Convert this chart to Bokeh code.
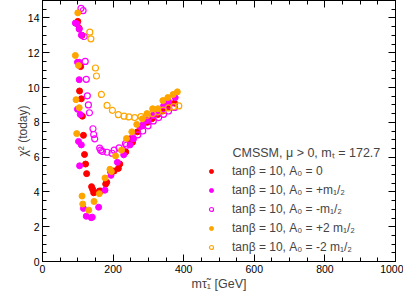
from bokeh.plotting import figure
from bokeh.models import (Range1d, LinearAxis, Legend, LegendItem, Label,
                          SingleIntervalTicker, CustomJSTickFormatter)
from bokeh.embed import file_html
from bokeh.resources import INLINE

# A0 = 0 (red, filled)
red_x = [100, 104, 108, 112, 105, 110, 113, 116, 119, 122, 125, 139, 142, 145, 161, 165,
         179, 182, 193, 203, 215, 219, 236, 248, 255, 269, 284, 297, 310, 327, 341, 357, 374]
red_y = [13.8, 13.4, 11.2, 13.0, 9.8, 9.35, 8.35, 7.25, 6.15, 5.6, 5.05, 4.3, 4.15, 3.95, 4.05, 4.05,
         4.45, 4.55, 5.15, 5.2, 5.35, 5.6, 6.3, 7.05, 6.85, 7.45, 7.8, 8.0, 8.2, 8.45, 8.65, 8.9, 9.1]

# A0 = +m1/2 (magenta, filled)
mag_x = [93, 98, 104, 110, 99, 104, 104, 99, 107, 102, 110, 105, 116, 124, 138, 141, 159,
         177, 194, 212, 230, 248, 258, 277, 284, 296, 313, 328, 343, 357, 376]
mag_y = [13.7, 13.65, 13.35, 13.0, 11.45, 11.45, 10.45, 8.75, 8.45, 6.9, 6.7, 5.5, 3.05, 2.6,
         2.52, 2.55, 3.12, 4.1, 4.95, 5.7, 6.13, 6.7, 7.05, 7.75, 7.85, 8.15, 8.4, 8.65, 8.95, 9.2, 9.42]

# A0 = -m1/2 (magenta, open)
mago_x = [109, 115, 118, 121, 124, 127, 130, 133, 143, 145, 148, 162, 165, 170, 183, 197, 203,
          217, 235, 238, 255, 270, 284, 299, 314, 329, 343, 357, 374]
mago_y = [14.55, 14.42, 12.93, 11.5, 10.47, 9.52, 9.0, 8.55, 7.63, 7.3, 7.05, 6.52, 6.4, 6.33,
          6.28, 6.22, 6.4, 6.53, 6.78, 6.68, 7.07, 7.28, 7.5, 7.8, 8.08, 8.27, 8.46, 8.65, 8.85]

# A0 = +2 m1/2 (orange, filled)
org_x = [100, 93, 102, 95, 104, 97, 112, 114, 131, 146, 161, 177, 191, 195, 207, 224, 238,
         253, 267, 283, 296, 312, 327, 341, 355, 370, 382]
org_y = [14.29, 11.84, 11.27, 9.3, 8.84, 7.35, 3.76, 3.3, 2.95, 3.45, 3.9, 4.8, 5.3, 5.17,
         6.07, 6.4, 7.07, 7.45, 7.88, 8.2, 8.5, 8.78, 8.78, 9.25, 9.42, 9.6, 9.75]

# A0 = -2 m1/2 (orange, open)
orgo_x = [134, 137, 150, 153, 167, 183, 198, 215, 231, 245, 261, 279, 296, 312, 327, 342,
          357, 372, 386]
orgo_y = [13.18, 12.8, 11.12, 10.66, 9.6, 8.97, 8.69, 8.44, 8.35, 8.31, 8.27, 8.33, 8.4,
          8.5, 8.6, 8.7, 8.83, 8.9, 8.94]

x_ticks = [0, 200, 400, 600, 800, 1000]
y_ticks = [0, 2, 4, 6, 8, 10, 12, 14]

x_label = "m\u03c4\u0303\u2081 [GeV]"
y_label = "\u03c7\u00b2 (today)"
legend_title = "CMSSM, \u03bc > 0, m\u209c = 172.7"
legend_labels = ["tan\u03b2 = 10, A\u2080 = 0",
                 "tan\u03b2 = 10, A\u2080 = +m\u2081/\u2082",
                 "tan\u03b2 = 10, A\u2080 = -m\u2081/\u2082",
                 "tan\u03b2 = 10, A\u2080 = +2 m\u2081/\u2082",
                 "tan\u03b2 = 10, A\u2080 = -2 m\u2081/\u2082"]

FONT = "Liberation Sans"
RED, MAG, ORG = "#ff0000", "#ff00ff", "#ffa500"

p = figure(width=403, height=293, output_backend="svg", toolbar_location=None,
           x_range=Range1d(0, 1000), y_range=Range1d(0, 15),
           min_border_left=42, min_border_right=8, min_border_top=0, min_border_bottom=30)
p.grid.visible = False
p.outline_line_color = "black"
p.outline_line_width = 1
p.background_fill_color = "white"
p.border_fill_color = "white"

r_red = p.scatter(red_x, red_y, size=6, marker="circle", fill_color=RED, line_color=RED)
r_mag = p.scatter(mag_x, mag_y, size=6, marker="circle", fill_color=MAG, line_color=MAG)
r_mago = p.scatter(mago_x, mago_y, size=6, marker="circle", fill_color=None, line_color=MAG, line_width=1.2)
r_org = p.scatter(org_x, org_y, size=6, marker="circle", fill_color=ORG, line_color=ORG)
r_orgo = p.scatter(orgo_x, orgo_y, size=6, marker="circle", fill_color=None, line_color=ORG, line_width=1.2)

def style_axis(ax, ticker_int, labels=True):
    ax.ticker = SingleIntervalTicker(interval=ticker_int, num_minor_ticks=4)
    ax.major_tick_in = 7
    ax.major_tick_out = 0
    ax.minor_tick_in = 4
    ax.minor_tick_out = 0
    ax.axis_line_color = "black"
    ax.major_label_text_font = FONT
    ax.major_label_text_color = "black"
    if labels:
        ax.major_label_text_font_size = "10.5px"
        ax.major_label_standoff = 3
    else:
        ax.formatter = CustomJSTickFormatter(code="return ''")
        ax.major_label_text_font_size = "0px"
        ax.major_label_standoff = 0

style_axis(p.xaxis[0], 200)
style_axis(p.yaxis[0], 2)
p.xaxis[0].axis_label = x_label
p.xaxis[0].axis_label_text_font = FONT
p.xaxis[0].axis_label_text_font_size = "12.5px"
p.xaxis[0].axis_label_text_font_style = "normal"
p.xaxis[0].axis_label_standoff = 1
p.yaxis[0].axis_label = y_label
p.yaxis[0].axis_label_text_font = FONT
p.yaxis[0].axis_label_text_font_size = "12px"
p.yaxis[0].axis_label_text_font_style = "normal"
p.yaxis[0].axis_label_standoff = -5

top = LinearAxis()
style_axis(top, 200, labels=False)
right = LinearAxis()
style_axis(right, 2, labels=False)
p.add_layout(top, "above")
p.add_layout(right, "right")

# legend heading, aligned with the entry texts
p.add_layout(Label(x=190, y=102, x_units="screen", y_units="screen", text=legend_title,
                   text_font=FONT, text_font_size="12.5px"))

items = [LegendItem(label=lab, renderers=[r]) for lab, r in
         zip(legend_labels, [r_red, r_mag, r_mago, r_org, r_orgo])]
leg = Legend(items=items, location=(164, 7),
             label_text_font=FONT, label_text_font_size="12px",
             glyph_width=10, glyph_height=14, label_height=14, spacing=4,
             label_standoff=16, padding=0, margin=0,
             background_fill_alpha=0, border_line_color=None)
leg.label_height = 14
leg.glyph_height = 14
leg.spacing = 5
p.add_layout(leg)

open("out.html", "w").write(file_html(p, INLINE))
